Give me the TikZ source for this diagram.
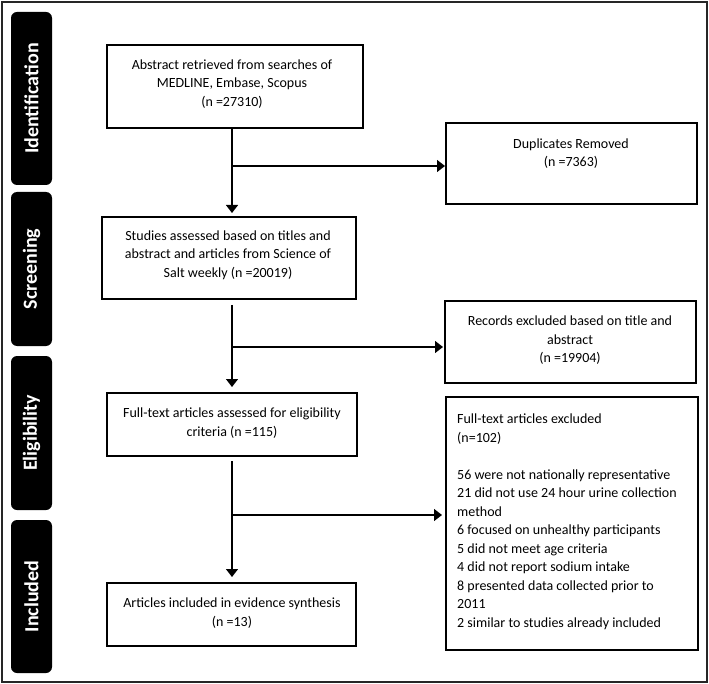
\documentclass[tikz,border=0pt]{standalone}
\usepackage{fontspec}
\setmainfont{Carlito}
\usetikzlibrary{arrows.meta}
\begin{document}
\begin{tikzpicture}[x=1pt,y=-1pt,
  box/.style={draw=black, line width=1.3pt, inner sep=0pt, outer sep=0pt, rectangle},
  rbox/.style={box, line width=1.9pt},
  txt/.style={inner sep=0pt, align=center, font=\fontsize{14}{18.5}\selectfont},
  stage/.style={rectangle, rounded corners=6pt, fill=black, text=white, rotate=90,
    inner sep=0pt, minimum height=41pt, font=\fontsize{20}{22}\selectfont\bfseries},
  arr/.style={line width=1.3pt, -{Triangle[length=8pt,width=12pt]}},
  ln/.style={line width=1.3pt}]
\useasboundingbox (0,0) rectangle (709,684);
\draw[line width=1.5pt, black!85] (2,2) rectangle (707,682);

% stage labels
\node[stage, minimum width=173pt] (sid) at (31.5,98.5) {Identification};
\node[stage, minimum width=154pt] (sscr) at (31.5,269) {Screening};
\node[stage, minimum width=154pt] (seli) at (31.5,433) {Eligibility};
\node[stage, minimum width=153pt] (sinc) at (31.5,596.5) {Included};

% main boxes
\node[box, minimum width=256pt, minimum height=83pt] (b1) at (235,86.5) {};
\node[box, minimum width=254pt, minimum height=82pt] (b2) at (229,258) {};
\node[box, minimum width=250pt, minimum height=63pt] (b3) at (232,424.5) {};
\node[box, minimum width=249pt, minimum height=63pt] (b4) at (231.5,614.5) {};
% side boxes
\node[rbox, minimum width=251pt, minimum height=81pt] (dup) at (571.5,163.5) {};
\node[rbox, minimum width=251pt, minimum height=82pt] (rec) at (570.5,342) {};
\node[rbox, minimum width=252pt, minimum height=253pt] (exc) at (572,523.5) {};

% texts
\node[txt] (t1) at (232,84) {Abstract retrieved from searches of\\MEDLINE, Embase, Scopus\\(n =27310)};
\node[txt] (t2) at (228,255) {Studies assessed based on titles and\\abstract and articles from Science of\\Salt weekly (n =20019)};
\node[txt] (t3) at (232,423) {Full-text articles assessed for eligibility\\criteria (n =115)};
\node[txt] (t4) at (232,613) {Articles included in evidence synthesis\\(n =13)};
\node[txt] (tdup) at (571,153.5) {Duplicates Removed\\(n =7363)};
\node[txt] (trec) at (570,340.5) {Records excluded based on title and\\abstract\\(n =19904)};
\node[txt, align=left, anchor=north west] (texc) at (457,414) {Full-text articles excluded\\(n=102)\\[18.5pt]56 were not nationally representative\\21 did not use 24 hour urine collection\\method\\6 focused on unhealthy participants\\5 did not meet age criteria\\4 did not report sodium intake\\8 presented data collected prior to\\2011\\2 similar to studies already included};

% spine and junctions
\coordinate (sp) at (232,0);
\coordinate (j1) at (232,166);
\coordinate (j2) at (232,347);
\coordinate (j3) at (232,515);

\draw[arr, shorten >=4pt] (b1.south -| sp) -- (b2.north -| sp);
\draw[arr, shorten <=6pt, shorten >=6pt] (b2.south -| sp) -- (b3.north -| sp);
\draw[arr, shorten <=5pt, shorten >=6pt] (b3.south -| sp) -- (b4.north -| sp);

\draw[arr, shorten >=1pt] (j1) -- (j1 -| dup.west);
\draw[arr, shorten >=2pt] (j2) -- (j2 -| rec.west);
\draw[arr, shorten >=4pt] (j3) -- (j3 -| exc.west);
\end{tikzpicture}
\end{document}
